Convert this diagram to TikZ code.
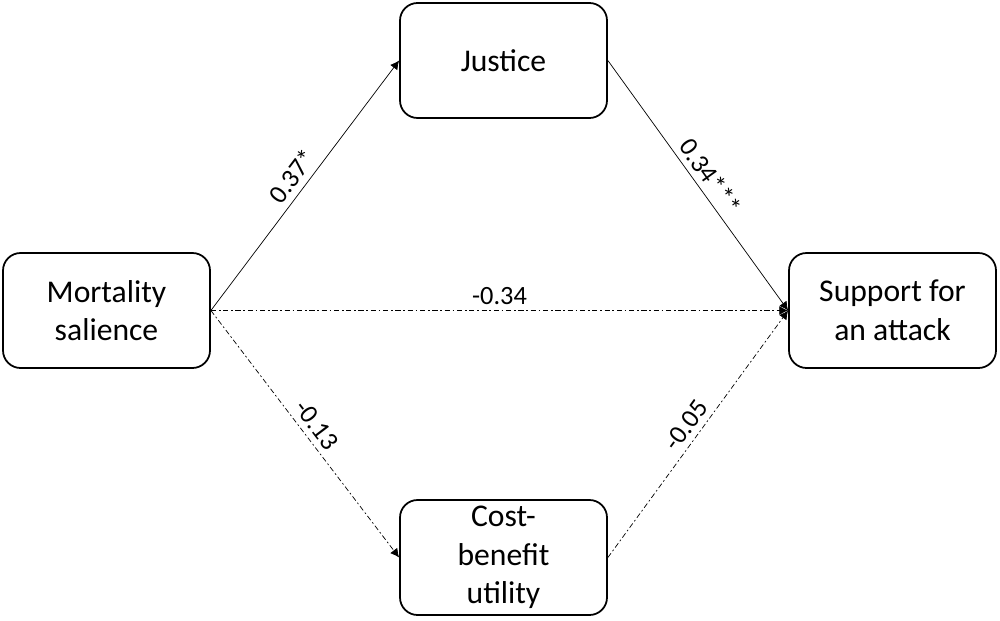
\documentclass[tikz,border=0pt]{standalone}
\usepackage{fontspec}
\setmainfont{Carlito}
\usetikzlibrary{arrows.meta}
\begin{document}
\begin{tikzpicture}[
    box/.style={
        draw,
        rounded corners = 10pt,
        line width = 1pt,
        minimum width = 4.14cm,
        minimum height = 2.3cm,
        align = center,
        font = \fontsize{18}{22}\selectfont
    },
    lbl/.style={
        sloped,
        above,
        font = \fontsize{15}{17}\selectfont
    },
    dd/.style={
        dash pattern = on 3pt off 1.5pt on 1pt off 1.5pt
    },
    >={Latex[length=5pt,width=5pt]}
    ]
\useasboundingbox (0,0) rectangle (20,12.4);

\node[box] (just) at (10.07,11.19) {Justice};
\node[box] (mort) at (2.13,6.19) {Mortality\\salience};
\node[box] (supp) at (17.85,6.19) {Support for\\an attack};
\node[box] (cost) at (10.07,1.25) {Cost-\\benefit\\utility};

\draw[->] (mort.east) -- node[lbl] {0.37*} (just.west);
\draw[->] (just.east) -- node[lbl] {0.34***} (supp.west);
\draw[->,dd] (mort.east) -- node[lbl] {-0.34} (supp.west);
\draw[->,dd] (mort.east) -- node[lbl] {-0.13} (cost.west);
\draw[->,dd] (cost.east) -- node[lbl] {-0.05} (supp.west);
\end{tikzpicture}
\end{document}
